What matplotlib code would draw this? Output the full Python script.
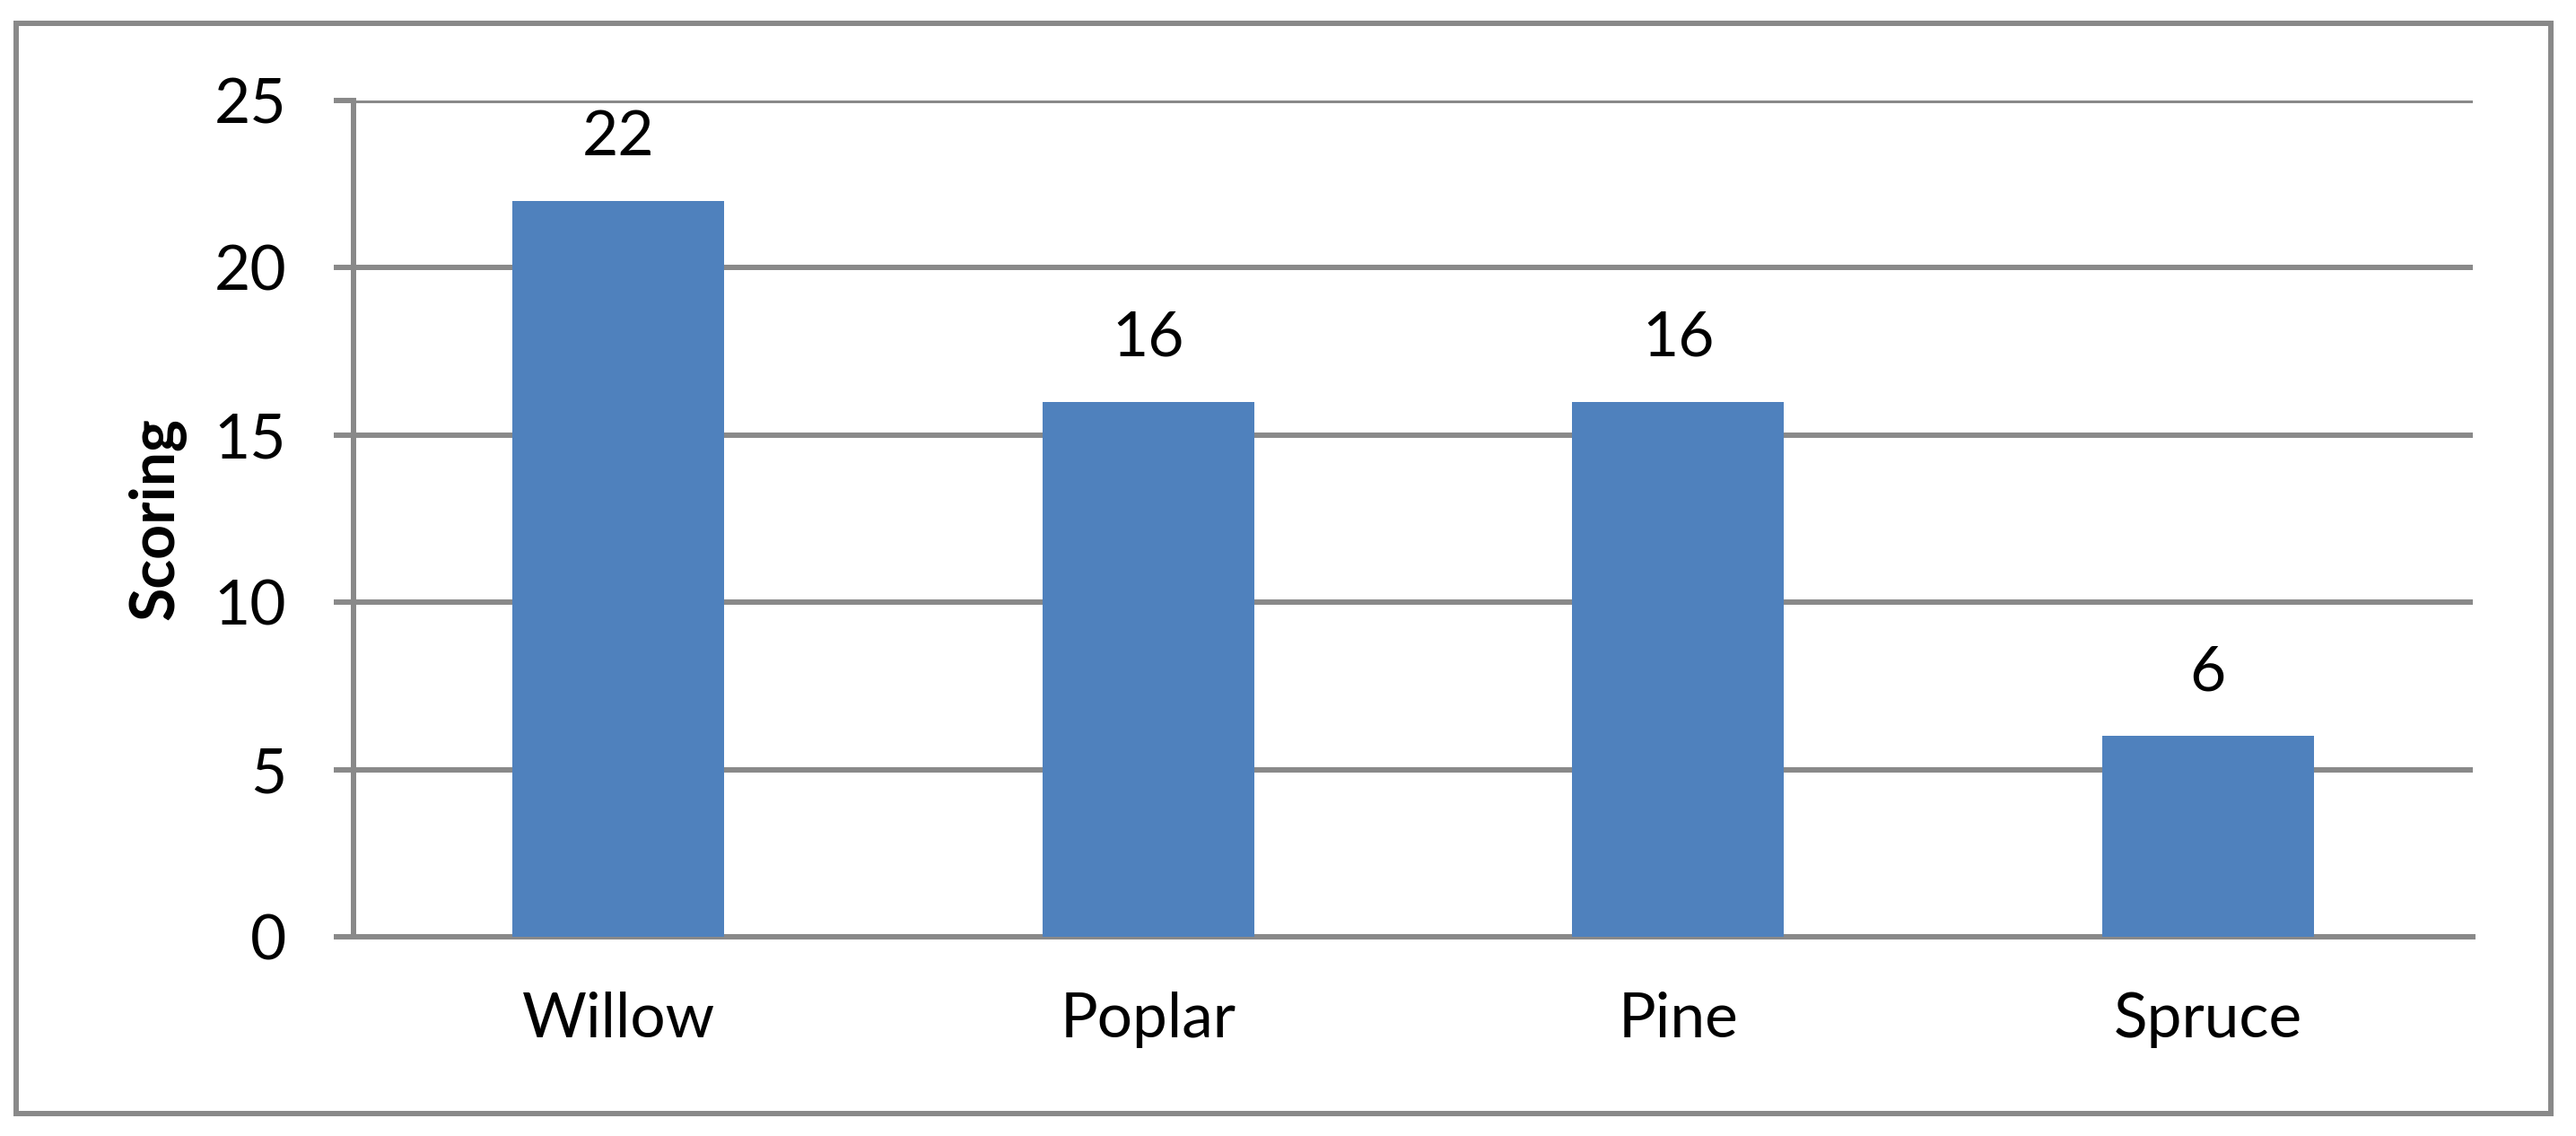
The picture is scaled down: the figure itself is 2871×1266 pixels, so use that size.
import matplotlib
matplotlib.use("Agg")
import matplotlib.pyplot as plt
from matplotlib.patches import Rectangle

categories = ["Willow", "Poplar", "Pine", "Spruce"]
scores = [22, 16, 16, 6]
y_ticks = [0, 5, 10, 15, 20, 25]
y_label = "Scoring"

W, H, DPI = 2871, 1266, 100
plt.rcParams['font.family'] = ['Lato', 'DejaVu Sans']

fig = plt.figure(figsize=(W / DPI, H / DPI), dpi=DPI)
fig.patch.set_facecolor('white')

grid_col = '#898989'
lw = 4.3

ax = fig.add_axes([394 / W, 1 - 1044 / H, (2756 - 394) / W, (1044 - 112) / H])
x = list(range(len(categories)))
ax.bar(x, scores, width=0.4, color='#4F81BD', zorder=3)
ax.set_xlim(-0.5, len(categories) - 0.5)
ax.set_ylim(0, 25)
ax.set_yticks(y_ticks)
ax.set_yticklabels([str(v) for v in y_ticks])
ax.set_xticks(x)
ax.set_xticklabels(categories)
ax.yaxis.grid(True, color=grid_col, linewidth=lw, zorder=0)
ax.set_axisbelow(True)
for s in ['top', 'right']:
    ax.spines[s].set_visible(False)
for s in ['left', 'bottom']:
    ax.spines[s].set_color(grid_col)
    ax.spines[s].set_linewidth(lw)
ax.tick_params(axis='y', length=16, width=lw, color=grid_col, labelsize=50, pad=38)
ax.tick_params(axis='x', length=0, labelsize=50, pad=44)
ax.set_ylabel(y_label, fontsize=49, fontweight='bold', labelpad=22)

for xi, v in zip(x, scores):
    ax.annotate(str(v), (xi, v), xytext=(0, 28), textcoords='offset points',
                ha='center', va='bottom', fontsize=50)

fig.patches.append(Rectangle((18 / W, 1 - 1241 / H), (2843 - 18) / W, (1241 - 26) / H,
                             transform=fig.transFigure, fill=False,
                             edgecolor=grid_col, linewidth=lw))

fig.savefig('out.png', dpi=DPI)
